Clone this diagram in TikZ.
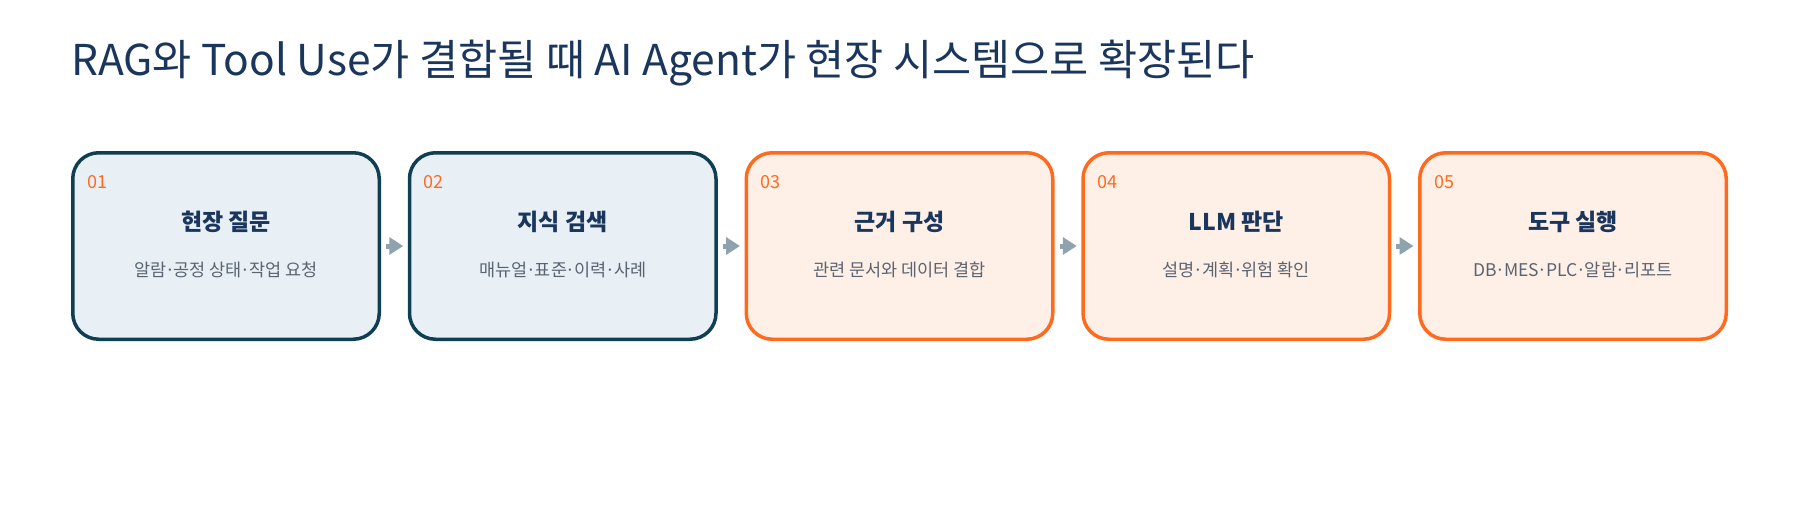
\documentclass[tikz,border=0pt]{standalone}
\usepackage{fontspec}
\setmainfont{Noto Sans CJK KR}
\usetikzlibrary{arrows.meta}
\definecolor{navy}{HTML}{1B365D}
\definecolor{teal}{HTML}{0E3F52}
\definecolor{paleblue}{HTML}{E8F0F5}
\definecolor{orange}{HTML}{FF6A1F}
\definecolor{paleorange}{HTML}{FFF0E7}
\definecolor{subgray}{HTML}{5A6470}
\definecolor{arrowgray}{HTML}{8EA3AD}
\newcommand{\md}{\kern-0.07em·\kern-0.07em}
\tikzset{
  stage/.style={rectangle, rounded corners=26pt, line width=3.5pt, inner sep=0pt,
    minimum width=306.5pt, minimum height=186.5pt},
  know/.style={stage, draw=teal, fill=paleblue},
  act/.style={stage, draw=orange, fill=paleorange},
  num/.style={anchor=base west, inner sep=0pt, text=orange, font=\fontsize{18}{21}\selectfont},
  head/.style={anchor=base, inner sep=0pt, text=navy, font=\fontsize{23}{27}\selectfont\bfseries},
  sub/.style={anchor=base, inner sep=0pt, text=subgray, font=\fontsize{17.5}{20}\selectfont},
  flow/.style={-{Triangle[length=14pt,width=17pt]}, line width=5pt, draw=arrowgray,
    shorten <=5pt, shorten >=4.5pt}
}
\begin{document}
\begin{tikzpicture}[x=1pt, y=-1pt]
    \useasboundingbox (0,0) rectangle (1800,520);
    \node [anchor=base west, inner sep=0pt, text=navy, font=\fontsize{42.5}{50}\selectfont]
        (title) at (71,75) {RAG와 Tool Use가 결합될 때 AI Agent가 현장 시스템으로 확장된다};
    % stages
    \node [know] (ask) at (226,246) {};
    \node [know] (search) at (562.75,246) {};
    \node [act] (ground) at (899.5,246) {};
    \node [act] (judge) at (1236.25,246) {};
    \node [act] (tool) at (1573,246) {};
    \node [num] (n1) at (87,188) {01};
    \node [num] (n2) at (423.75,188) {02};
    \node [num] (n3) at (760.5,188) {03};
    \node [num] (n4) at (1097.25,188) {04};
    \node [num] (n5) at (1434,188) {05};
    \node [head] (h1) at (226,230) {현장 질문};
    \node [head] (h2) at (562.75,230) {지식 검색};
    \node [head] (h3) at (899.5,230) {근거 구성};
    \node [head] (h4) at (1236.25,230) {LLM 판단};
    \node [head] (h5) at (1573,230) {도구 실행};
    \node [sub] (t1) at (226,276) {알람\md 공정 상태\md 작업 요청};
    \node [sub] (t2) at (562.75,276) {매뉴얼\md 표준\md 이력\md 사례};
    \node [sub] (t3) at (899.5,276) {관련 문서와 데이터 결합};
    \node [sub] (t4) at (1236.25,276) {설명\md 계획\md 위험 확인};
    \node [sub] (t5) at (1573,276) {DB\md MES\md PLC\md 알람\md 리포트};
    % arrows
    \draw [flow] (ask) -- (search);
    \draw [flow] (search) -- (ground);
    \draw [flow] (ground) -- (judge);
    \draw [flow] (judge) -- (tool);
\end{tikzpicture}
\end{document}
